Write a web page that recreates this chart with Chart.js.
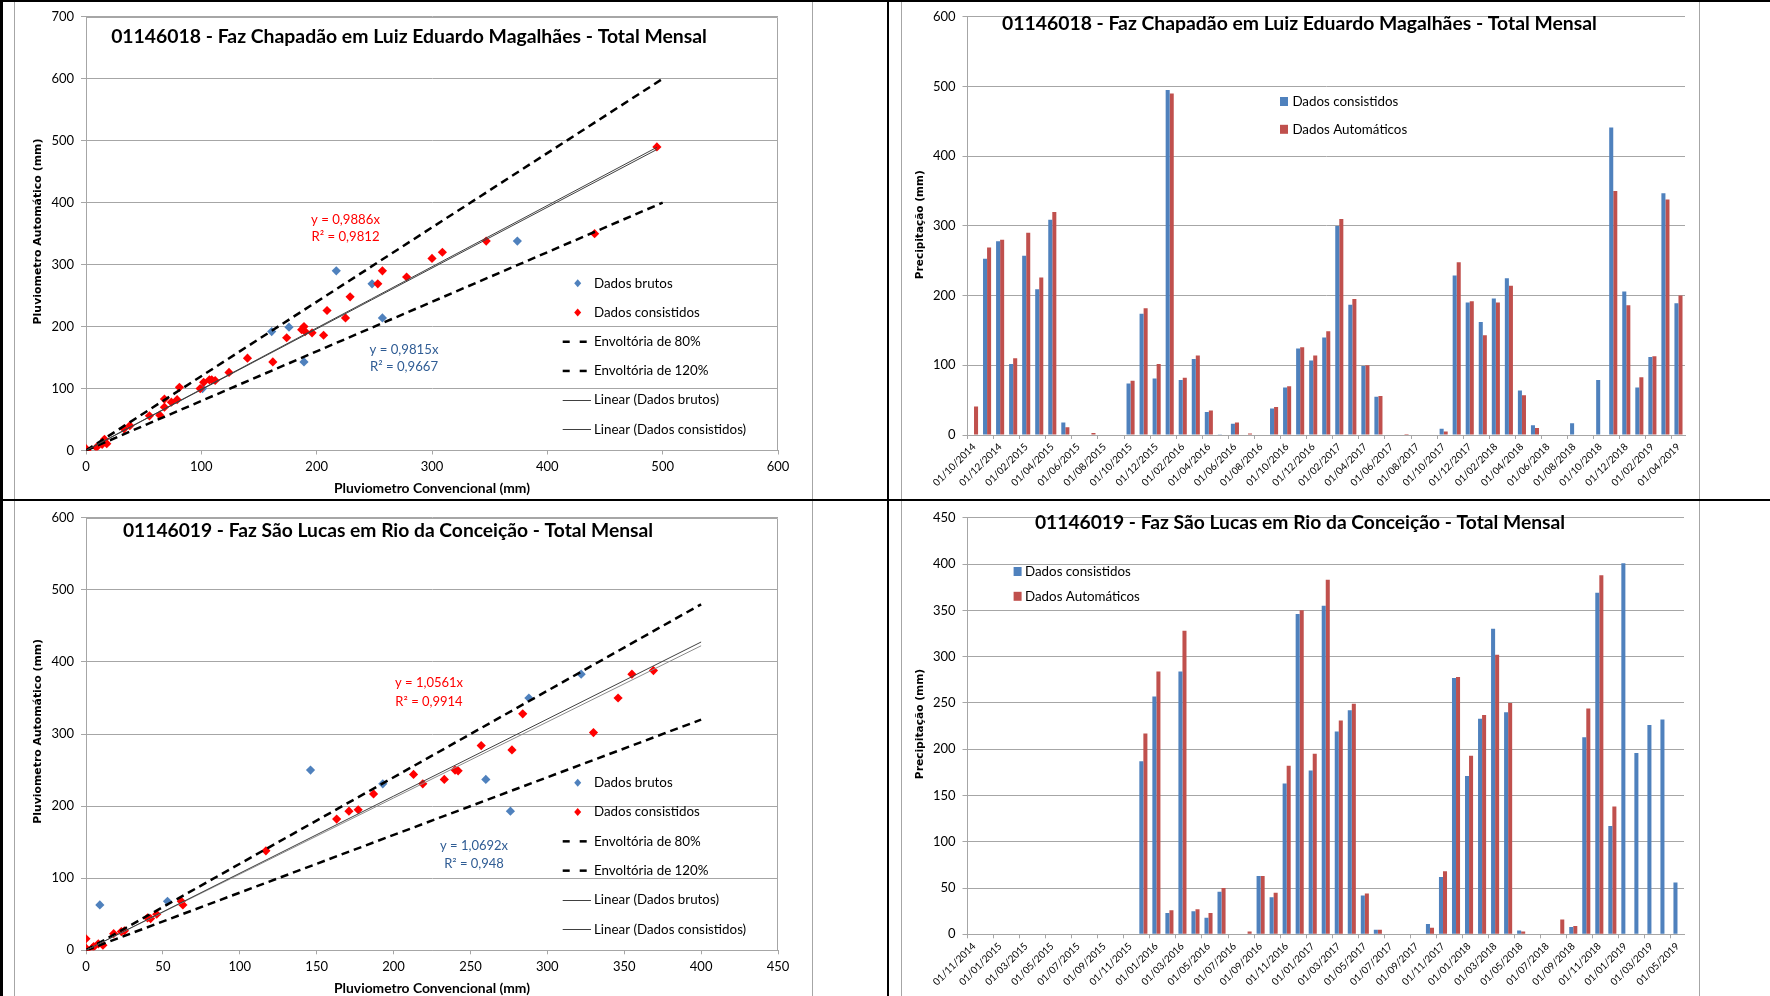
<!DOCTYPE html>
<html><head><meta charset="utf-8">
<script src="https://cdn.jsdelivr.net/npm/chart.js@4.4.1/dist/chart.umd.min.js"></script>
<style>
html,body{margin:0;padding:0;background:#fff;width:1770px;height:996px;overflow:hidden;position:relative}
canvas{position:absolute}
.bk{position:absolute;background:#000}
.gr{position:absolute;background:#a6a6a6}
</style></head><body>
<div class="gr" style="left:14px;top:0;width:1px;height:996px"></div>
<div class="gr" style="left:812px;top:0;width:1px;height:996px"></div>
<div class="gr" style="left:901px;top:0;width:1px;height:996px"></div>
<div class="gr" style="left:1699px;top:0;width:1px;height:996px"></div>
<div class="bk" style="left:0;top:0;width:3px;height:996px"></div>
<div class="bk" style="left:0;top:0;width:1770px;height:2px"></div>
<div class="bk" style="left:887px;top:0;width:2px;height:996px"></div>
<div class="bk" style="left:0;top:499px;width:1770px;height:2px"></div>
<canvas id="c1" width="797" height="497" style="left:15px;top:2px"></canvas>
<canvas id="c2" width="797" height="497" style="left:902px;top:2px"></canvas>
<canvas id="c3" width="797" height="493" style="left:15px;top:503px"></canvas>
<canvas id="c4" width="797" height="493" style="left:902px;top:503px"></canvas>
<script>
// ---------------- DATA ----------------
const TITLE18 = '01146018 - Faz Chapadão em Luiz Eduardo Magalhães - Total Mensal';
const TITLE19 = '01146019 - Faz São Lucas em Rio da Conceição - Total Mensal';

const months18 = ('01/10/2014 01/11/2014 01/12/2014 ' +
  '01/01/2015 01/02/2015 01/03/2015 01/04/2015 01/05/2015 01/06/2015 01/07/2015 01/08/2015 01/09/2015 01/10/2015 01/11/2015 01/12/2015 ' +
  '01/01/2016 01/02/2016 01/03/2016 01/04/2016 01/05/2016 01/06/2016 01/07/2016 01/08/2016 01/09/2016 01/10/2016 01/11/2016 01/12/2016 ' +
  '01/01/2017 01/02/2017 01/03/2017 01/04/2017 01/05/2017 01/06/2017 01/07/2017 01/08/2017 01/09/2017 01/10/2017 01/11/2017 01/12/2017 ' +
  '01/01/2018 01/02/2018 01/03/2018 01/04/2018 01/05/2018 01/06/2018 01/07/2018 01/08/2018 01/09/2018 01/10/2018 01/11/2018 01/12/2018 ' +
  '01/01/2019 01/02/2019 01/03/2019 01/04/2019').split(' ');
const consist18 = [null,253,278,102,257,209,309,18,0,0,0,0,74,174,81,495,79,109,33,1,16,0,0,38,68,124,107,140,300,187,99,55,0,0,0,0,9,229,190,162,196,225,64,14,0,0,17,0,79,441,206,68,112,347,189];
const auto18 = [41,269,280,110,290,226,320,11,0,3,0,0,78,182,102,490,82,114,35,0,18,2,0,40,70,126,114,149,310,195,100,56,0,1.5,0,0,5,248,192,143,190,214,57,10,0,0,null,null,null,350,186,83,113,338,200];

const months19 = ('01/11/2014 01/12/2014 ' +
  '01/01/2015 01/02/2015 01/03/2015 01/04/2015 01/05/2015 01/06/2015 01/07/2015 01/08/2015 01/09/2015 01/10/2015 01/11/2015 01/12/2015 ' +
  '01/01/2016 01/02/2016 01/03/2016 01/04/2016 01/05/2016 01/06/2016 01/07/2016 01/08/2016 01/09/2016 01/10/2016 01/11/2016 01/12/2016 ' +
  '01/01/2017 01/02/2017 01/03/2017 01/04/2017 01/05/2017 01/06/2017 01/07/2017 01/08/2017 01/09/2017 01/10/2017 01/11/2017 01/12/2017 ' +
  '01/01/2018 01/02/2018 01/03/2018 01/04/2018 01/05/2018 01/06/2018 01/07/2018 01/08/2018 01/09/2018 01/10/2018 01/11/2018 01/12/2018 ' +
  '01/01/2019 01/02/2019 01/03/2019 01/04/2019 01/05/2019').split(' ');
const consist19 = [null,null,null,null,null,null,null,null,null,null,null,null,null,187,257,23,284,25,18,46,0,0,63,40,163,346,177,355,219,242,42,5,0,0,0,11,62,277,171,233,330,240,4,0,0,0,8,213,369,117,401,196,226,232,56];
const auto19 = [null,null,null,null,null,null,null,null,null,null,null,null,null,217,284,26,328,27,23,50,0,3,63,45,182,350,195,383,231,249,44,5,0,0,0,7,68,278,193,237,302,250,3,0,0,16,9,244,388,138,null,null,null,null,null];

// raw (Dados brutos) points that differ from the consisted ones
const brutosConv18 = [217,248,257,189,161,176,374,101];
const brutosAuto18 = [290,269,214,143,192,199,338,100];
const brutosConv19 = [9,53,146,193,260,276,288,322];
const brutosAuto19 = [63,68,250,231,237,193,350,383];

// trend slopes [brutos, consistidos] and R²
const slopes18 = [0.9815, 0.9886];
const r2_18 = [0.9667, 0.9812];
const slopes19 = [1.0692, 1.0561];
const r2_19 = [0.948, 0.9914];
const envelopes = [0.8, 1.2];
const trendEnd18 = 495, envEnd18 = 500;
const trendEnd19 = 400, envEnd19 = 400;

// axis ticks
const sxTicks18 = [0,100,200,300,400,500,600];
const syTicks18 = [0,100,200,300,400,500,600,700];
const sxTicks19 = [0,50,100,150,200,250,300,350,400,450];
const syTicks19 = [0,100,200,300,400,500,600];
const byTicks18 = [0,100,200,300,400,500,600];
const byTicks19 = [0,50,100,150,200,250,300,350,400,450];

// ---------------- STYLE ----------------
const FONT = 'Lato, "Open Sans", sans-serif';
const AXFONT = '"DejaVu Sans", Verdana, sans-serif';
const GRID = '#a6a6a6';
const BLUE = '#4f81bd', REDBAR = '#c0504d', RED = '#ff0000', EQBLUE = '#2f5c94';

function pairs(cx, ay){ const o=[]; cx.forEach((v,i)=>{ if(v!==null && ay[i]!==null) o.push({x:v,y:ay[i]}); }); return o; }
function zipXY(xs, ys){ return xs.map((v,i)=>({x:v,y:ys[i]})); }
function line(slope, end){ return [{x:0,y:0},{x:end,y:slope*end}]; }
function fmt(v){ return String(v).replace('.', ','); }

function fitFont(ctx, text, weight, family, target){
  ctx.font = `${weight} 20px ${family}`;
  return 20 * target / ctx.measureText(text).width;
}
function drawText(ctx, t){
  ctx.save();
  ctx.font = `${t.weight||'normal'} ${t.size}px ${t.family||FONT}`;
  ctx.fillStyle = t.color || '#000';
  ctx.textAlign = t.align || 'left';
  ctx.textBaseline = 'middle';
  ctx.translate(t.x, t.y);
  if (t.rotate) ctx.rotate(t.rotate);
  ctx.fillText(t.text, 0, 0);
  ctx.restore();
}

const deco = {
  id: 'deco',
  afterDraw(chart, args, o){
    const ctx = chart.ctx, ca = chart.chartArea;
    if (o.frame){
      ctx.save(); ctx.strokeStyle = GRID; ctx.lineWidth = 1;
      ctx.beginPath();
      ctx.moveTo(Math.round(ca.left)+0.5, Math.round(ca.top)+0.5);
      ctx.lineTo(Math.round(ca.right)-0.5, Math.round(ca.top)+0.5);
      ctx.lineTo(Math.round(ca.right)-0.5, Math.round(ca.bottom));
      ctx.stroke(); ctx.restore();
    }
    // titles
    (o.texts||[]).forEach(t => {
      const sz = t.fit ? fitFont(ctx, t.text, t.weight||'normal', t.family||FONT, t.fit) : t.size;
      drawText(ctx, Object.assign({}, t, {size: sz}));
    });
    // equation labels (two lines, centered)
    (o.eqs||[]).forEach(e => {
      const sz = fitFont(ctx, e.l1, 'normal', FONT, e.fit);
      drawText(ctx, {text:e.l1, x:e.x, y:e.y, size:sz, color:e.color, align:'center'});
      drawText(ctx, {text:e.l2, x:e.x, y:e.y+e.dy, size:sz, color:e.color, align:'center'});
    });
    // legend
    if (o.legend){
      const L = o.legend;
      const sz = fitFont(ctx, L.ref, 'normal', FONT, L.refW);
      L.items.forEach((it, i) => {
        const y = L.y + i*L.dy;
        ctx.save();
        if (it.type === 'diamond'){
          ctx.fillStyle = it.color; ctx.beginPath();
          ctx.moveTo(L.mx, y-4); ctx.lineTo(L.mx+3.5, y); ctx.lineTo(L.mx, y+4); ctx.lineTo(L.mx-3.5, y); ctx.closePath(); ctx.fill();
        } else if (it.type === 'dash'){
          ctx.fillStyle = '#000';
          ctx.fillRect(L.mx-15, y-1.2, 7, 2.5); ctx.fillRect(L.mx+2, y-1.2, 7, 2.5);
        } else if (it.type === 'line'){
          ctx.strokeStyle = it.color; ctx.lineWidth = 1; ctx.beginPath();
          ctx.moveTo(L.mx-15, Math.round(y)+0.5); ctx.lineTo(L.tx-3, Math.round(y)+0.5); ctx.stroke();
        } else if (it.type === 'square'){
          ctx.fillStyle = it.color; ctx.fillRect(L.mx-4, y-4.5, 8, 9);
        }
        ctx.restore();
        drawText(ctx, {text:it.text, x:L.tx, y:y, size:sz});
      });
    }
  }
};

const tickFont = {family: FONT, size: 13};

function scatterCfg(p){
  return {
    type: 'scatter',
    data: { datasets: [
      {type:'line', label:'Linear (Dados brutos)', data: line(p.slopes[0], p.trendEnd), borderColor:'#404040', borderWidth:1, pointRadius:0, order:0},
      {type:'line', label:'Linear (Dados consistidos)', data: line(p.slopes[1], p.trendEnd), borderColor:p.trend2Color, borderWidth:1, pointRadius:0, order:0},
      {type:'line', label:'Envoltória de 80%', data: line(envelopes[0], p.envEnd), borderColor:'#000', borderWidth:2.5, borderDash:[8,5], pointRadius:0, order:1},
      {type:'line', label:'Envoltória de 120%', data: line(envelopes[1], p.envEnd), borderColor:'#000', borderWidth:2.5, borderDash:[8,5], pointRadius:0, order:1},
      {label:'Dados consistidos', data: p.red, pointStyle:'rectRot', pointRadius:4.6, backgroundColor:RED, borderWidth:0, order:2},
      {label:'Dados brutos', data: p.blue, pointStyle:'rectRot', pointRadius:4.6, backgroundColor:BLUE, borderWidth:0, order:3}
    ]},
    options: {
      responsive:false, animation:false, devicePixelRatio:1,
      layout:{padding:{left:0, right:p.padR, top:p.padT, bottom:0}},
      plugins:{legend:{display:false}, tooltip:{enabled:false}, deco:p.deco},
      scales:{
        x:{type:'linear', min:p.xt[0], max:p.xt[p.xt.length-1],
           ticks:{stepSize:p.xt[1]-p.xt[0], font:tickFont, color:'#000', padding:5},
           grid:{drawOnChartArea:false, tickLength:4, color:GRID}, border:{color:GRID},
           afterFit(s){ s.height = p.xH; }},
        y:{type:'linear', min:p.yt[0], max:p.yt[p.yt.length-1],
           ticks:{stepSize:p.yt[1]-p.yt[0], font:tickFont, color:'#000', padding:7},
           grid:{color:GRID, tickLength:5}, border:{color:GRID},
           afterFit(s){ s.width = 71; }}
      }
    },
    plugins:[deco]
  };
}

function barCfg(p){
  return {
    type:'bar',
    data:{labels:p.labels, datasets:[
      {label:'Dados consistidos', data:p.blue, backgroundColor:BLUE},
      {label:'Dados Automáticos', data:p.red, backgroundColor:REDBAR}
    ]},
    options:{
      responsive:false, animation:false, devicePixelRatio:1,
      layout:{padding:{left:0, right:p.padR, top:p.padT, bottom:0}},
      datasets:{bar:{categoryPercentage:0.62, barPercentage:1}},
      plugins:{legend:{display:false}, tooltip:{enabled:false}, deco:p.deco},
      scales:{
        x:{offset:true,
           grid:{offset:true, drawOnChartArea:false, tickLength:4, color:(c)=> c.index%2===0 ? GRID : 'rgba(0,0,0,0)'},
           border:{color:GRID},
           ticks:{autoSkip:false, minRotation:45, maxRotation:45, padding:2, font:{family:FONT,size:10}, color:'#000',
                  callback(v,i){ return i%2===0 ? this.getLabelForValue(v) : ''; }},
           afterFit(s){ s.height = p.xH; }},
        y:{min:p.yt[0], max:p.yt[p.yt.length-1],
           ticks:{stepSize:p.yt[1]-p.yt[0], font:tickFont, color:'#000', padding:7},
           grid:{color:GRID, tickLength:5}, border:{color:GRID},
           afterFit(s){ s.width = 65.5; }}
      }
    },
    plugins:[deco]
  };
}

const scatterLegend = (y0, dy) => ({
  mx: 562.7, tx: 579, y: y0, dy: dy, ref: 'Dados consistidos', refW: 106,
  items: [
    {type:'diamond', color:BLUE, text:'Dados brutos'},
    {type:'diamond', color:RED, text:'Dados consistidos'},
    {type:'dash', text:'Envoltória de 80%'},
    {type:'dash', text:'Envoltória de 120%'},
    {type:'line', color:'#404040', text:'Linear (Dados brutos)'},
    {type:'line', color:'#404040', text:'Linear (Dados consistidos)'}
  ]
});

// Chart 1: scatter 01146018
new Chart(document.getElementById('c1'), scatterCfg({
  slopes: slopes18, trendEnd: trendEnd18, envEnd: envEnd18, trend2Color:'#404040',
  red: pairs(consist18, auto18), blue: zipXY(brutosConv18, brutosAuto18),
  xt: sxTicks18, yt: syTicks18, padR: 34, padT: 10.3, xH: 48.5,
  deco: {
    frame: true,
    texts: [
      {text:TITLE18, x:394, y:34.7, weight:'bold', fit:596, align:'center'},
      {text:'Pluviometro Automático (mm)', x:23.4, y:229.5, weight:'bold', family:AXFONT, fit:186, align:'center', rotate:-Math.PI/2},
      {text:'Pluviometro Convencional (mm)', x:417, y:487, weight:'bold', fit:196, align:'center'}
    ],
    eqs: [
      {l1:'y = '+fmt(slopes18[1])+'x', l2:'R² = '+fmt(r2_18[1]), x:330.5, y:218, dy:17, fit:69, color:RED},
      {l1:'y = '+fmt(slopes18[0])+'x', l2:'R² = '+fmt(r2_18[0]), x:389, y:348, dy:17, fit:69, color:EQBLUE}
    ],
    legend: scatterLegend(281.3, 29.2)
  }
}));

// Chart 2: bars 01146018
new Chart(document.getElementById('c2'), barCfg({
  labels: months18, blue: consist18, red: auto18, yt: byTicks18,
  padR: 14, padT: 10.7, xH: 64,
  deco: {
    texts: [
      {text:TITLE18, x:397.5, y:21.3, weight:'bold', fit:595, align:'center'},
      {text:'Precipitação (mm)', x:18, y:222.7, weight:'bold', family:AXFONT, fit:109, align:'center', rotate:-Math.PI/2}
    ],
    legend: {mx:382, tx:390.4, y:99.5, dy:27.8, ref:'Dados consistidos', refW:106,
      items:[{type:'square', color:BLUE, text:'Dados consistidos'}, {type:'square', color:REDBAR, text:'Dados Automáticos'}]}
  }
}));

// Chart 3: scatter 01146019
new Chart(document.getElementById('c3'), scatterCfg({
  slopes: slopes19, trendEnd: trendEnd19, envEnd: envEnd19, trend2Color:'#8c8c8c',
  red: pairs(consist19, auto19), blue: zipXY(brutosConv19, brutosAuto19),
  xt: sxTicks19, yt: syTicks19, padR: 34, padT: 9, xH: 45.7,
  deco: {
    frame: true,
    texts: [
      {text:TITLE19, x:373, y:28, weight:'bold', fit:530.5, align:'center'},
      {text:'Pluviometro Automático (mm)', x:23.4, y:228.3, weight:'bold', family:AXFONT, fit:185, align:'center', rotate:-Math.PI/2},
      {text:'Pluviometro Convencional (mm)', x:417, y:486, weight:'bold', fit:196, align:'center'}
    ],
    eqs: [
      {l1:'y = '+fmt(slopes19[1])+'x', l2:'R² = '+fmt(r2_19[1]), x:414, y:180, dy:18.7, fit:68, color:RED},
      {l1:'y = '+fmt(slopes19[0])+'x', l2:'R² = '+fmt(r2_19[0]), x:459, y:343, dy:17.5, fit:68, color:EQBLUE}
    ],
    legend: scatterLegend(279.7, 29.3)
  }
}));

// Chart 4: bars 01146019
new Chart(document.getElementById('c4'), barCfg({
  labels: months19, blue: consist19, red: auto19, yt: byTicks19,
  padR: 15, padT: 9, xH: 61.7,
  deco: {
    texts: [
      {text:TITLE19, x:398, y:19.7, weight:'bold', fit:530.5, align:'center'},
      {text:'Precipitação (mm)', x:18, y:221, weight:'bold', family:AXFONT, fit:110.5, align:'center', rotate:-Math.PI/2}
    ],
    legend: {mx:115.6, tx:123, y:68.5, dy:24.8, ref:'Dados consistidos', refW:106,
      items:[{type:'square', color:BLUE, text:'Dados consistidos'}, {type:'square', color:REDBAR, text:'Dados Automáticos'}]}
  }
}));
</script>
</body></html>
